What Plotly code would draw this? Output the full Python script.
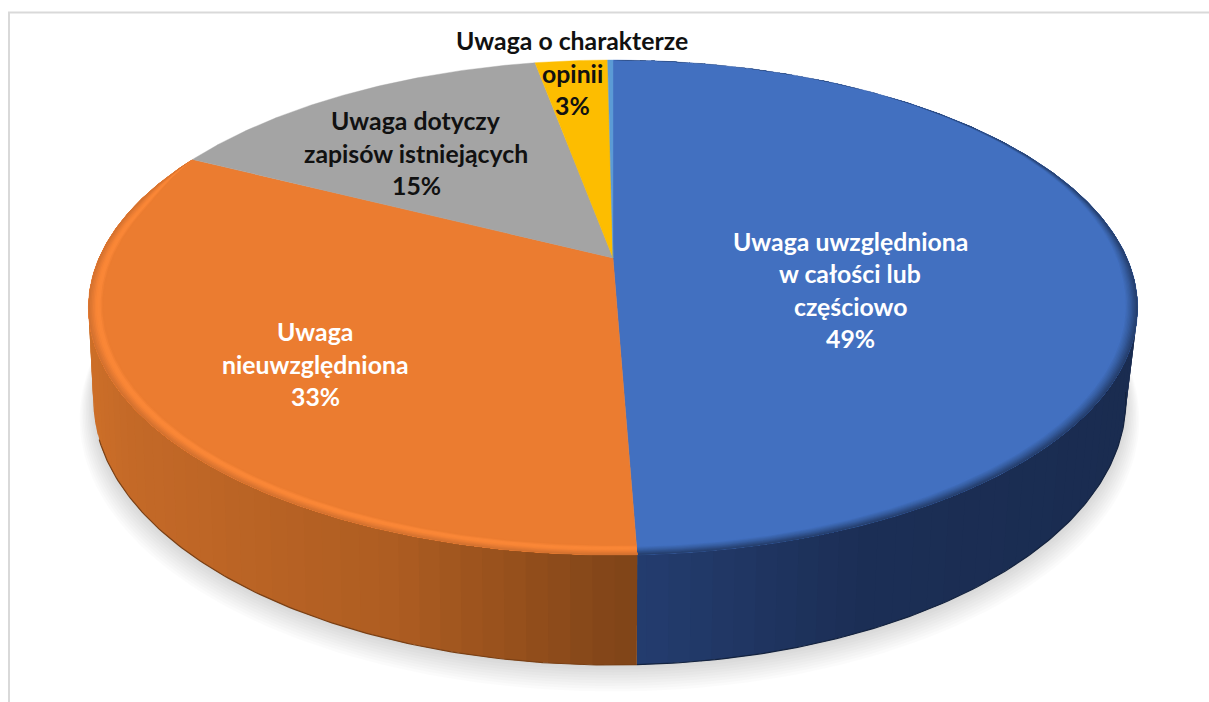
import numpy as np
import plotly.graph_objects as go

# ---- data ----
CATEGORIES = ["Uwaga uwzględniona<br>w całości lub<br>częściowo",
              "Uwaga<br>nieuwzględniona",
              "Uwaga dotyczy<br>zapisów istniejących",
              "Uwaga o charakterze<br>opinii",
              "Inne"]
VALUES = [49.3, 33.0, 14.6, 2.7, 0.2]
SHOW_LABEL = [True, True, True, True, False]

# ---- style ----
TOP_COLORS = ["#4270C0", "#EB7C30", "#A4A4A4", "#FDBD00", "#5B9BD5"]
LABEL_COLORS = ["white", "white", "#111111", "#111111", "#111111"]
LABEL_POS = [(850, 290), (315, 364), (416, 153), (572, 73), (0, 0)]
LINE_H = 32.5
FONT = dict(family="Lato, Carlito, sans-serif", size=24.8, weight=700)
FRAME = "#D9D9D9"
# wall colour stops: (screen x, colour) per slice index
WALL = {0: [(637, "#243D6F"), (850, "#1C2F56"), (1140, "#1A2C50")],
        1: [(88, "#CF7029"), (130, "#C56A28"), (400, "#AE5D22"), (637, "#7F4418")]}
WALL_EDGE = {0: "#14233F", 1: "#7A4015"}
# bevel colours from inner to outer edge
RIM = {0: ["#4270C0", "#3C66AE", "#355B9C", "#2D4D85", "#26406F"],
       1: ["#EB7C30", "#FB8838", "#F98636", "#E67B33", "#D47230"]}
RIM_STEPS = 10

# ---- projection of the pie disc ----
X0, Y0 = 613.0, 258.0
A, B, K = 237.6, 514.0, 0.2
C = 88.0
RIGHT_TAPER, LEFT_TAPER = 12.0, 5.0


def project(r, theta_deg, h=0.0):
    t = np.radians(theta_deg)
    X = r * np.sin(t)
    Z = -r * np.cos(t)
    d = 1 - K * Z
    taper = RIGHT_TAPER * np.maximum(X, 0) + LEFT_TAPER * np.minimum(X, 0)
    return X0 + B * X / d - taper * h, Y0 + (A * Z + C * h) / d


def hex2rgb(c):
    return np.array([int(c[i:i + 2], 16) for i in (1, 3, 5)], dtype=float)


def ramp(stops, x, xs=None):
    cols = np.array([hex2rgb(s) for s in stops])
    xs = np.linspace(0, 1, len(stops)) if xs is None else xs
    rgb = [np.interp(x, xs, cols[:, j]) for j in range(3)]
    return "rgb(%d,%d,%d)" % tuple(rgb)


def wall_color(i, x):
    stops = WALL[i]
    return ramp([s[1] for s in stops], x, [s[0] for s in stops])


def poly(x, y, color, name="", line=0.6):
    return go.Scatter(x=list(x), y=list(y), mode="lines", fill="toself", fillcolor=color,
                      line=dict(color=color, width=line), hoverinfo="skip",
                      showlegend=False, name=name)


total = sum(VALUES)
bounds = np.concatenate([[0], np.cumsum(VALUES) / total * 360])
fig = go.Figure()

# shadow
for j in range(10):
    th = np.linspace(0, 360, 241)
    sx, sy = project(1.0 + 0.0028 * j, th, 1.0)
    fig.add_trace(poly(sx, sy + 2 + 1.6 * j, "rgba(0,0,0,0.014)", line=0))

# walls, painted with overlap so that no seams show
for i in WALL:
    a0, a1 = bounds[i], bounds[i + 1]
    lo, hi = max(a0, 55), min(a1, 305)
    edges = np.arange(lo, hi, 2.0).tolist() + [hi]
    seq = list(zip(edges[:-1], edges[1:]))
    if i == 1:
        seq = seq[::-1]
    for p, q in seq:
        if i == 1:
            p2, q2 = max(lo, p - 1.0), q
        else:
            p2, q2 = p, min(hi, q + 1.0)
        tt = np.linspace(p2, q2, 4)
        xt, yt = project(1.0, tt, 0.0)
        xb, yb = project(1.0, tt, 1.0)
        col = wall_color(i, float(np.mean(xb)))
        fig.add_trace(poly(np.r_[xt, xb[::-1]], np.r_[yt, yb[::-1]], col, line=0))
    tt = np.linspace(max(a0, 100), min(a1, 250), 120)
    xb, yb = project(1.0, tt, 1.0)
    fig.add_trace(go.Scatter(x=xb, y=yb, mode="lines", line=dict(color=WALL_EDGE[i], width=1.2),
                             hoverinfo="skip", showlegend=False))

# top face
for i, col in enumerate(TOP_COLORS):
    th = np.linspace(bounds[i], bounds[i + 1], max(3, int((bounds[i + 1] - bounds[i]) * 2)))
    x, y = project(1.0, th, 0.0)
    fig.add_trace(poly(np.r_[X0, x, X0], np.r_[Y0, y, Y0], col, name=CATEGORIES[i], line=0.4))


# bevel: nested bands whose width fades towards the back of the pie
def fade(i, th):
    if i == 0:
        return np.clip((th - 35) / 60, 0, 1)
    return np.clip((bounds[2] - th) / 12, 0, 1)


RIM_W = {0: 0.024, 1: 0.028}
for i, cols in RIM.items():
    th = np.linspace(bounds[i], bounds[i + 1], 300)
    for j in range(RIM_STEPS):
        f = j / (RIM_STEPS - 1)
        w = RIM_W[i] * fade(i, th) * (1 - j / RIM_STEPS)
        xo, yo = project(1.0, th, 0.0)
        xi, yi = project(1.0 - w, th, 0.0)
        fig.add_trace(poly(np.r_[xo, xi[::-1]], np.r_[yo, yi[::-1]], ramp(cols, f), line=0))

# labels
for i, cat in enumerate(CATEGORIES):
    if not SHOW_LABEL[i]:
        continue
    lines = cat.split("<br>") + [f"{round(VALUES[i])}%"]
    cx, cy = LABEL_POS[i]
    for n, text in enumerate(lines):
        fig.add_annotation(x=cx, y=cy + (n - (len(lines) - 1) / 2) * LINE_H, text=text,
                           showarrow=False, font=dict(color=LABEL_COLORS[i], **FONT),
                           xanchor="center", yanchor="middle")

# chart frame (only the top and left edges are inside the picture)
fig.add_shape(type="line", x0=9, x1=9, y0=12.5, y1=702, line=dict(color=FRAME, width=2))
fig.add_shape(type="line", x0=8, x1=1209, y0=12.5, y1=12.5, line=dict(color=FRAME, width=2))

fig.update_layout(width=1209, height=702, margin=dict(l=0, r=0, t=0, b=0),
                  paper_bgcolor="white", plot_bgcolor="white", showlegend=False,
                  xaxis=dict(range=[0, 1209], visible=False, fixedrange=True),
                  yaxis=dict(range=[702, 0], visible=False, fixedrange=True))
fig.write_html("out.html", config=dict(displayModeBar=False),
               post_script="document.body.style.margin='0';document.body.style.overflow='hidden';")
